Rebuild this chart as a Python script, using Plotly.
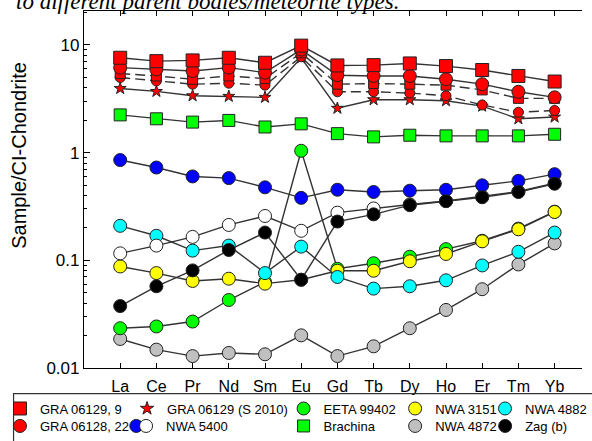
import plotly.graph_objects as go

elements = ["La", "Ce", "Pr", "Nd", "Sm", "Eu", "Gd", "Tb", "Dy", "Ho", "Er", "Tm", "Yb"]

gra06129_9 = [7.60, 7.07, 7.18, 7.60, 6.83, 9.85, 6.45, 6.49, 6.73, 6.36, 5.85, 5.15, 4.57]
gra06128_22 = [6.15, 5.93, 5.72, 6.15, 5.53, 9.05, 5.23, 5.15, 5.15, 4.80, 4.32, 3.67, 3.26]
gra06129_other = [5.42, 5.15, 4.80, 5.15, 4.87, 8.44, 4.32, 4.38, 4.32, 4.23, 3.82, 3.19, 3.19]
gra06128_other = [4.98, 4.63, 4.32, 4.41, 4.23, 7.76, 3.67, 3.67, 3.57, 3.37, 2.77, 2.37, 2.46]
gra06129_s2010 = [3.94, 3.70, 3.37, 3.33, 3.26, 7.60, 2.58, 3.10, 3.10, 3.03, 2.70, 2.06, 2.14]
brachina = [2.24, 2.06, 1.92, 1.99, 1.73, 1.85, 1.50, 1.40, 1.45, 1.43, 1.43, 1.43, 1.48]
nwa5400_a = [0.853, 0.727, 0.601, 0.580, 0.476, 0.380, 0.452, 0.431, 0.443, 0.452, 0.497, 0.547, 0.631]
nwa5400_b = [0.116, 0.137, 0.165, 0.213, 0.258, 0.188, 0.277, 0.303, 0.330, 0.355, 0.390, 0.435, 0.520]
zag_b = [0.0376, 0.0574, 0.0806, 0.1246, 0.181, 0.066, 0.229, 0.267, 0.325, 0.354, 0.385, 0.431, 0.514]
nwa4882 = [0.209, 0.169, 0.123, 0.137, 0.0761, 0.134, 0.070, 0.0546, 0.0574, 0.0652, 0.0896, 0.120, 0.181]
nwa3151 = [0.0877, 0.0761, 0.0643, 0.0675, 0.0607, 0.066, 0.080, 0.080, 0.098, 0.1145, 0.150, 0.194, 0.281]
eeta99402 = [0.0234, 0.0243, 0.0270, 0.0428, 0.0629, 1.04, 0.0834, 0.094, 0.108, 0.127, 0.152, 0.197, 0.283]
nwa4872 = [0.0186, 0.0148, 0.0129, 0.0138, 0.0134, 0.0201, 0.0129, 0.0159, 0.0234, 0.0346, 0.0539, 0.0915, 0.1435]

W, H = 592, 441
ML, MR, MT, MB = 83, 0, 11, 69
PW, PH = W - ML - MR, H - MT - MB
FONT = "Liberation Sans, Arial, sans-serif"


def px_x(p):
    return (p - ML) / PW


def px_y(p):
    return (H - MB - p) / PH


LINE = "#333333"
EDGE = "#222222"

fig = go.Figure()

series = [
    # name, values, symbol, color, size, dash
    ("NWA 4872", nwa4872, "circle", "#c0c0c0", 13, "solid"),
    ("EETA 99402", eeta99402, "circle", "#00ff00", 13, "solid"),
    ("NWA 3151", nwa3151, "circle", "#ffff00", 13, "solid"),
    ("NWA 4882", nwa4882, "circle", "#00ffff", 13, "solid"),
    ("NWA 5400 (b)", nwa5400_b, "circle", "#ffffff", 13, "solid"),
    ("NWA 5400", nwa5400_a, "circle", "#0000ff", 13, "solid"),
    ("Zag (b)", zag_b, "circle", "#000000", 13, "solid"),
    ("Brachina", brachina, "square", "#00ff00", 12, "solid"),
    ("GRA 06129 (S 2010)", gra06129_s2010, "star", "#ff0000", 9, "solid"),
    ("GRA 06128 (other)", gra06128_other, "circle", "#ff0000", 10, "10px,5px"),
    ("GRA 06129 (other)", gra06129_other, "square", "#ff0000", 10, "10px,5px"),
    ("GRA 06128, 22", gra06128_22, "circle", "#ff0000", 13, "solid"),
    ("GRA 06129, 9", gra06129_9, "square", "#ff0000", 13, "solid"),
]

for name, vals, sym, col, size, dash in series:
    fig.add_trace(go.Scatter(
        x=elements, y=vals, mode="lines+markers", name=name, showlegend=False,
        hoverinfo="skip",
        line=dict(color=LINE, width=1.4, dash=dash),
        marker=dict(symbol=sym, color=col, size=size, line=dict(color=EDGE, width=1)),
    ))

# legend entries: (label, symbol, color, size, legend-box left px x, row centre px y)
legend_entries = [
    ("GRA 06129, 9", "square", "#ff0000", 13, -3, 413),
    ("GRA 06128, 22", "circle", "#ff0000", 13, -3, 431),
    ("GRA 06129 (S 2010)", "star", "#ff0000", 10, 127, 413),
    (" ", "circle", "#0000ff", 13, 116, 431),
    ("NWA 5400", "circle", "#ffffff", 13, 126, 431),
    ("EETA 99402", "circle", "#00ff00", 13, 287, 413),
    ("Brachina", "square", "#00ff00", 12, 287, 431),
    ("NWA 3151", "circle", "#ffff00", 13, 401, 413),
    ("NWA 4872", "circle", "#c0c0c0", 13, 401, 431),
    ("NWA 4882", "circle", "#00ffff", 13, 493, 413),
    ("Zag (b)", "circle", "#000000", 13, 493, 431),
]

layout_legends = {}
for i, (label, sym, col, size, lx, sy) in enumerate(legend_entries):
    key = "legend" if i == 0 else f"legend{i + 1}"
    fig.add_trace(go.Scatter(
        x=[None], y=[None], mode="markers", name=label, showlegend=True, legend=key,
        marker=dict(symbol=sym, color=col, size=size, line=dict(color=EDGE, width=1)),
    ))
    layout_legends[key] = dict(
        x=px_x(lx), y=px_y(sy), xanchor="left", yanchor="middle",
        bgcolor="rgba(0,0,0,0)", borderwidth=0, itemclick=False, itemdoubleclick=False,
        font=dict(family=FONT, size=13, color="black"),
    )

minor_vals = [m * 10 ** e for e in (-2, -1, 0, 1) for m in range(2, 10)]

fig.update_layout(
    width=W, height=H,
    margin=dict(l=ML, r=MR, t=MT, b=MB, pad=0),
    paper_bgcolor="white", plot_bgcolor="white",
    font=dict(family=FONT, color="black"),
    hovermode=False,
    xaxis=dict(
        type="category", categoryorder="array", categoryarray=elements,
        range=[-1, (W - MR - ML) / 37 - 1],
        showline=True, linecolor="black", linewidth=1.2, mirror="ticks",
        ticks="inside", ticklen=5, tickcolor="black", tickwidth=1,
        showgrid=False, zeroline=False,
        tickfont=dict(size=16, family=FONT), ticklabelstandoff=4,
    ),
    yaxis=dict(
        type="log", range=[-2, -2 + PH / 108.9],
        tickvals=[0.01, 0.1, 1, 10], ticktext=["0.01", "0.1", "1", "10"],
        showline=True, linecolor="black", linewidth=1.2, mirror=False,
        ticks="inside", ticklen=6, tickcolor="black", tickwidth=1,
        minor=dict(tickvals=minor_vals, ticks="inside", ticklen=3, tickcolor="black", tickwidth=1, showgrid=False),
        showgrid=False, zeroline=False,
        tickfont=dict(size=17, family=FONT), ticklabelstandoff=0,
    ),
    annotations=[
        dict(text="Sample/CI-Chondrite", textangle=-90, xref="paper", yref="paper",
             x=px_x(17), y=px_y(157), xanchor="center", yanchor="middle", showarrow=False,
             font=dict(size=20, family=FONT, color="black")),
        dict(text="<i>to different parent bodies/meteorite types.</i>", xref="paper", yref="paper",
             x=px_x(11), y=px_y(16), xanchor="left", yanchor="bottom", showarrow=False,
             font=dict(size=23, family="Liberation Serif, Times New Roman, serif", color="black")),
    ],
    shapes=[
        dict(type="rect", xref="paper", yref="paper", x0=px_x(11), x1=px_x(610),
             y0=px_y(398), y1=px_y(460), line=dict(color="#333333", width=1.2), fillcolor="rgba(0,0,0,0)"),
    ],
    **layout_legends,
)

fig.write_html(
    "out.html",
    config={"displayModeBar": False},
    post_script="document.body.style.margin='0';document.body.style.overflow='hidden';",
)
